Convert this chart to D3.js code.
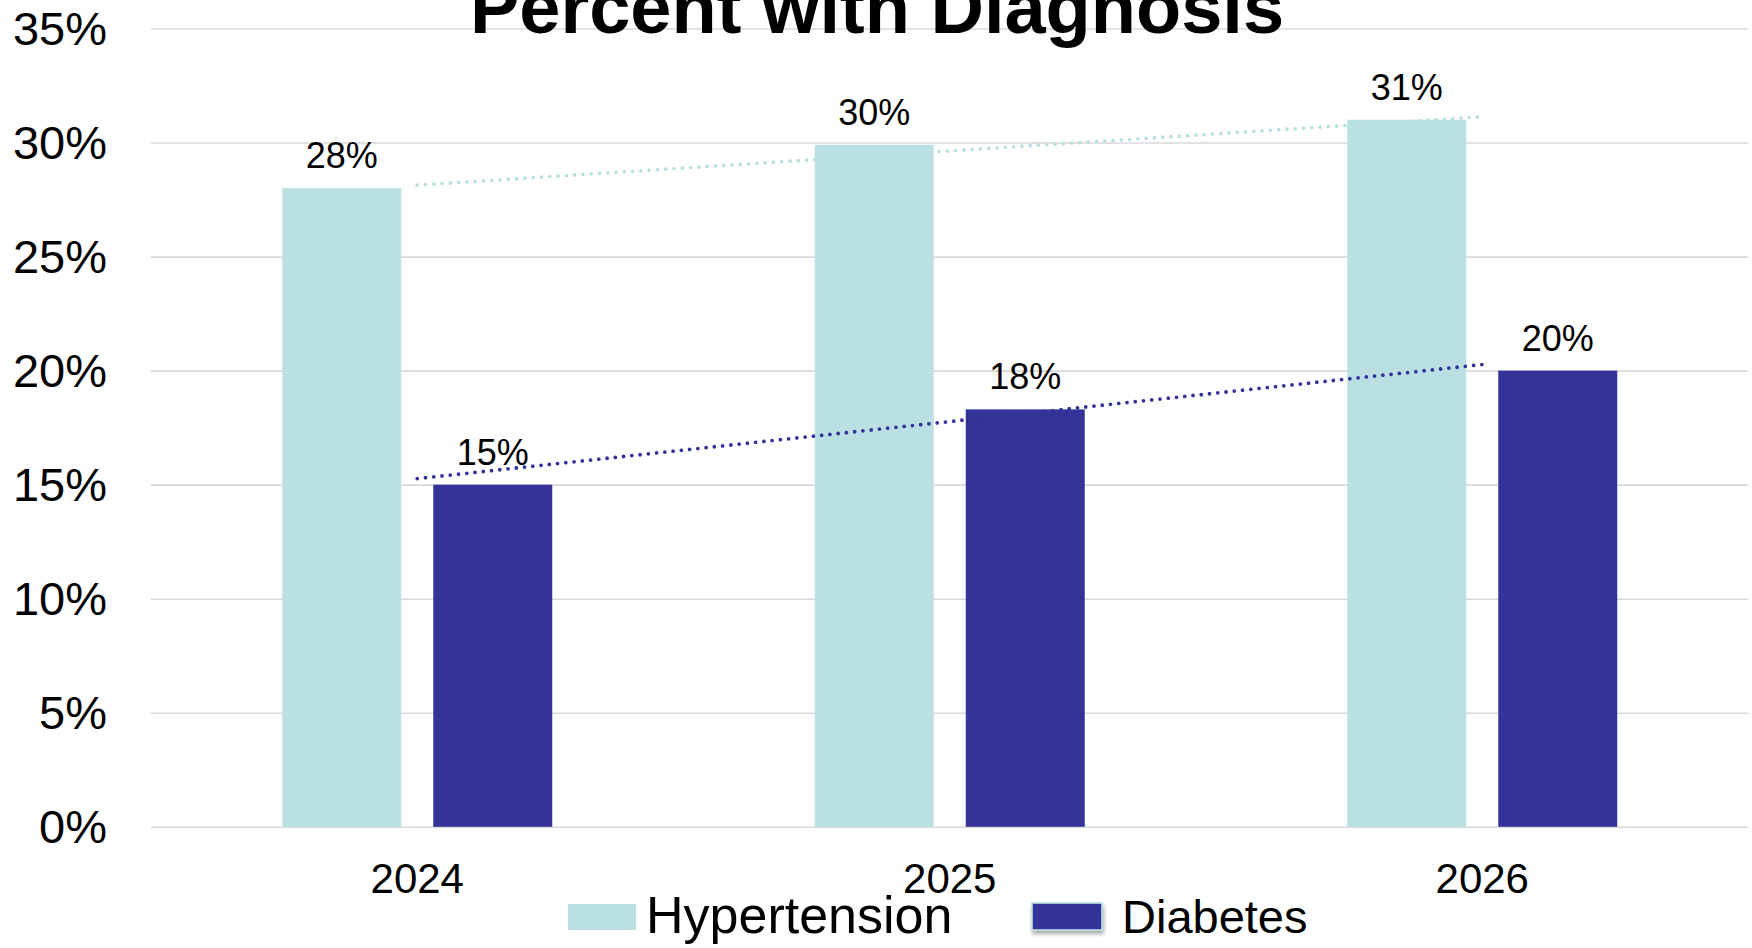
<!DOCTYPE html>
<html>
<head>
<meta charset="utf-8">
<script src="https://cdn.jsdelivr.net/npm/d3@7"></script>
<style>
  html, body { margin: 0; padding: 0; background: #fff; overflow: hidden; }
  svg { display: block; font-family: "Liberation Sans", Arial, sans-serif; }
</style>
</head>
<body>
<svg id="chart" width="1752" height="948"></svg>
<script>
// Chart data
const title = "Percent with Diagnosis";
const categories = ["2024", "2025", "2026"];
const seriesNames = ["Hypertension", "Diabetes"];
const hypertension = [0.28, 0.299, 0.31];
const diabetes = [0.15, 0.183, 0.20];
const yTicks = [0, 0.05, 0.10, 0.15, 0.20, 0.25, 0.30, 0.35];

const colors = { Hypertension: "#BBE0E3", Diabetes: "#333399" };
const valuesBySeries = { Hypertension: hypertension, Diabetes: diabetes };

const svg = d3.select("#chart");
const plot = { left: 151, right: 1748.5, top: 28.5, bottom: 826.8 };

const x0 = d3.scaleBand()
  .domain(categories)
  .range([plot.left, plot.right])
  .paddingInner(0.493)
  .paddingOuter(0.2465);

const x1 = d3.scaleBand()
  .domain(seriesNames)
  .range([0, x0.bandwidth()])
  .paddingInner(0.212)
  .paddingOuter(0);

const y = d3.scaleLinear()
  .domain([0, 0.35])
  .range([plot.bottom, plot.top]);

const pct = d3.format(".0%");

// Y axis with horizontal gridlines
const yAxis = svg.append("g")
  .attr("transform", `translate(${plot.left},0)`)
  .call(d3.axisLeft(y)
    .tickValues(yTicks)
    .tickFormat(pct)
    .tickSize(-(plot.right - plot.left))
    .tickPadding(44));
yAxis.select(".domain").remove();
yAxis.selectAll(".tick line")
  .attr("stroke", "#D9D9D9")
  .attr("stroke-width", 1.6);
yAxis.selectAll(".tick text")
  .attr("fill", "#000")
  .attr("font-size", 47)
  .attr("font-family", "Liberation Sans, Arial, sans-serif")
  .attr("dy", "0.33em");

// Category axis
const xAxis = svg.append("g")
  .attr("transform", `translate(0,${plot.bottom})`)
  .call(d3.axisBottom(x0).tickSize(0).tickPadding(36));
xAxis.select(".domain").remove();
xAxis.selectAll(".tick text")
  .attr("fill", "#000")
  .attr("font-size", 42)
  .attr("font-family", "Liberation Sans, Arial, sans-serif");

// Bars
const rows = categories.map((c, i) => ({
  category: c,
  items: seriesNames.map(s => ({ series: s, value: valuesBySeries[s][i] }))
}));

const groups = svg.append("g").selectAll("g")
  .data(rows)
  .join("g")
  .attr("transform", d => `translate(${x0(d.category)},0)`);

groups.selectAll("rect")
  .data(d => d.items)
  .join("rect")
  .attr("x", d => x1(d.series))
  .attr("y", d => y(d.value))
  .attr("width", x1.bandwidth())
  .attr("height", d => y(0) - y(d.value))
  .attr("fill", d => colors[d.series]);

// Value labels
groups.selectAll("text.value")
  .data(d => d.items)
  .join("text")
  .attr("class", "value")
  .attr("x", d => x1(d.series) + x1.bandwidth() / 2)
  .attr("y", d => y(d.value) - 20)
  .attr("text-anchor", "middle")
  .attr("font-size", 36)
  .attr("fill", "#000")
  .text(d => pct(d.value));

// Linear trendlines (least squares over category index)
function linearFit(vals) {
  const n = vals.length;
  const xs = d3.range(n);
  const mx = d3.mean(xs), my = d3.mean(vals);
  const sxy = d3.sum(xs, (xv, i) => (xv - mx) * (vals[i] - my));
  const sxx = d3.sum(xs, xv => (xv - mx) * (xv - mx));
  const slope = sxy / sxx;
  return xv => my + slope * (xv - mx);
}

const center = c => x0(c) + x0.bandwidth() / 2;
const line = d3.line().x(d => d[0]).y(d => d[1]);

seriesNames.forEach(s => {
  const fit = linearFit(valuesBySeries[s]);
  const last = categories.length - 1;
  const pts = [
    [center(categories[0]), y(fit(0))],
    [center(categories[last]), y(fit(last))]
  ];
  svg.append("path")
    .attr("d", line(pts))
    .attr("fill", "none")
    .attr("stroke", colors[s])
    .attr("stroke-width", 3.8)
    .attr("stroke-linecap", "round")
    .attr("stroke-dasharray", "0 8.3");
});

// Title
svg.append("text")
  .attr("x", 877)
  .attr("y", 33)
  .attr("text-anchor", "middle")
  .attr("font-size", 74)
  .attr("font-weight", "bold")
  .attr("fill", "#000")
  .text(title);

// Legend
const defs = svg.append("defs");
const shadow = defs.append("filter")
  .attr("id", "swatchShadow")
  .attr("x", "-20%").attr("y", "-20%")
  .attr("width", "140%").attr("height", "160%");
shadow.append("feDropShadow")
  .attr("dx", 1).attr("dy", 3)
  .attr("stdDeviation", 2)
  .attr("flood-color", "#000")
  .attr("flood-opacity", 0.35);

const legendItems = [
  { name: "Hypertension", sx: 568, sw: 68, sy: 904, sh: 26, tx: 646, fs: 52, stroke: null, shadow: false },
  { name: "Diabetes", sx: 1032, sw: 70, sy: 903, sh: 27, tx: 1122, fs: 47, stroke: "#BBE0E3", shadow: true }
];

const legend = svg.append("g").selectAll("g")
  .data(legendItems)
  .join("g");

legend.append("rect")
  .attr("x", d => d.sx)
  .attr("y", d => d.sy)
  .attr("width", d => d.sw)
  .attr("height", d => d.sh)
  .attr("fill", d => colors[d.name])
  .attr("stroke", d => d.stroke || "none")
  .attr("stroke-width", 1.6)
  .attr("filter", d => d.shadow ? "url(#swatchShadow)" : null);

legend.append("text")
  .attr("x", d => d.tx)
  .attr("y", 933)
  .attr("font-size", d => d.fs)
  .attr("fill", "#000")
  .text(d => d.name);
</script>
</body>
</html>
